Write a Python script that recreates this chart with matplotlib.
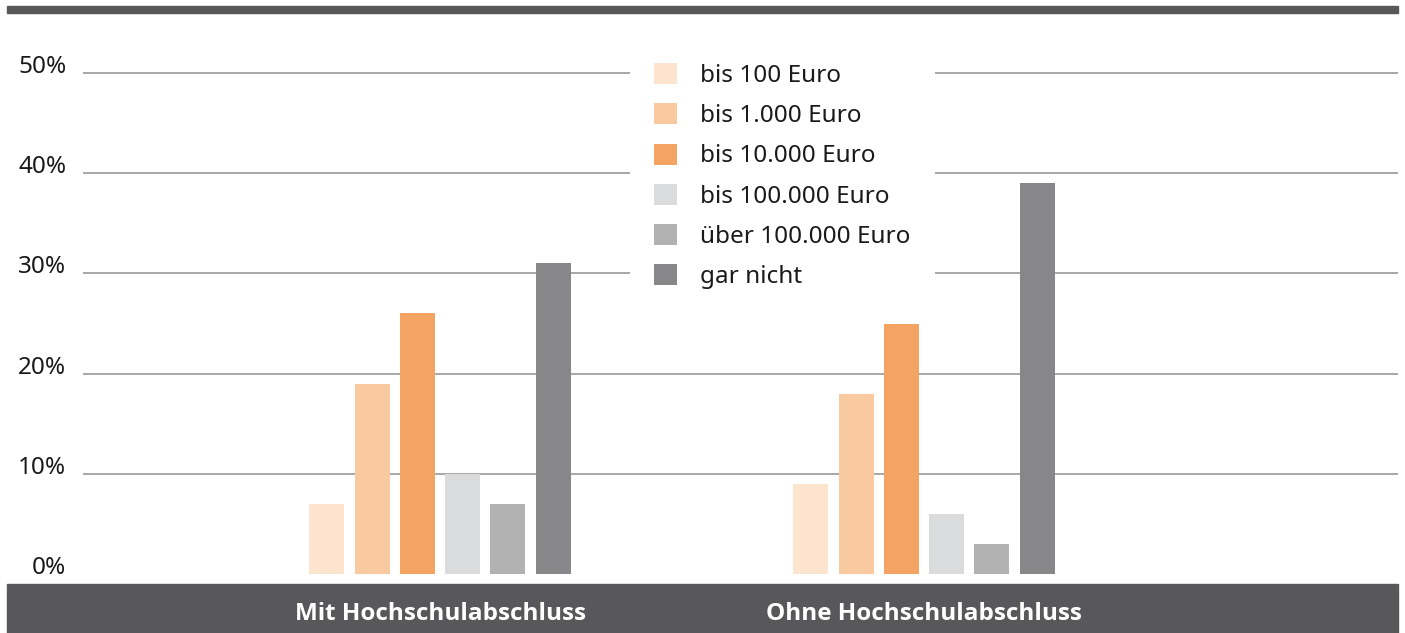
import matplotlib
matplotlib.use("Agg")
import matplotlib.pyplot as plt
import numpy as np
from matplotlib.patches import Rectangle, Patch

plt.rcParams['font.family'] = ['Noto Sans', 'DejaVu Sans']

groups = ['Mit Hochschulabschluss', 'Ohne Hochschulabschluss']
series = ['bis 100 Euro', 'bis 1.000 Euro', 'bis 10.000 Euro',
          'bis 100.000 Euro', 'über 100.000 Euro', 'gar nicht']
colors = ['#FCE4CF', '#F9C9A0', '#F3A462', '#DADBDC', '#B2B2B3', '#878789']
values = [
    [7, 9],    # bis 100 Euro
    [19, 18],  # bis 1.000 Euro
    [26, 25],  # bis 10.000 Euro
    [10, 6],   # bis 100.000 Euro
    [7, 3],    # über 100.000 Euro
    [31, 39],  # gar nicht
]
yticks = [0, 10, 20, 30, 40, 50]

W, H = 1405, 633
FS = 17.5
fig = plt.figure(figsize=(W / 100, H / 100), dpi=100)

# axes placed in pixel coordinates: x 83..1398, y 73(top, 50%)..574(0%)
ax_left, ax_right = 83, 1398
ax_bottom, ax_top = 574, 53
ax = fig.add_axes([ax_left / W, 1 - ax_bottom / H,
                   (ax_right - ax_left) / W, (ax_bottom - ax_top) / H])
ax.set_zorder(2)

# group centres at x=440 and x=924 px -> data 0 and 1
px_per_unit = 484
ax.set_xlim((ax_left - 440) / px_per_unit, (ax_right - 440) / px_per_unit)
ax.set_ylim(0, 50 * (ax_bottom - ax_top) / (ax_bottom - 73))

x = np.arange(len(groups))
step = 45.3 / px_per_unit
width = 35 / px_per_unit
for i, (name, vals) in enumerate(zip(series, values)):
    ax.bar(x + (i - 2.5) * step, vals, width=width, color=colors[i],
           label=name, zorder=3)

for y in yticks[1:]:
    ax.axhline(y, color='#9a9a9a', lw=1.2, zorder=1)

ax.set_yticks(yticks)
ax.set_yticklabels([f'{v}%' for v in yticks], fontsize=FS, color='#1a1a1a')
ax.tick_params(axis='y', length=0, pad=12)
for lbl in ax.get_yticklabels():
    lbl.set_va('baseline')
ax.set_xticks(x)
ax.set_xticklabels(groups, fontsize=FS, color='white')
for lbl in ax.get_xticklabels():
    lbl.set_fontfamily(['Open Sans', 'DejaVu Sans'])
    lbl.set_fontweight('bold')
ax.tick_params(axis='x', length=0, pad=20.5)
for s in ax.spines.values():
    s.set_visible(False)
ax.patch.set_visible(False)

# top rule and bottom band
fig.patches.append(Rectangle((7 / W, 1 - 13 / H), 1391 / W, 7 / H,
                             transform=fig.transFigure, color='#58585A', zorder=0))
fig.patches.append(Rectangle((7 / W, 0), 1391 / W, (H - 584) / H,
                             transform=fig.transFigure, color='#58585A', zorder=0))

handles = [Patch(facecolor=c, edgecolor='none') for c in colors]
leg = ax.legend(handles, series, loc='upper left',
                bbox_to_anchor=(630 / W, 1 - 39 / H), bbox_transform=fig.transFigure,
                fontsize=FS, frameon=True, facecolor='white', edgecolor='none',
                framealpha=1, fancybox=False, handlelength=0.95, handleheight=0.95,
                handletextpad=0.95, labelspacing=0.63, borderpad=1.0,
                borderaxespad=0, labelcolor='#1a1a1a')
leg.set_zorder(5)

fig.savefig('out.png', dpi=100)
